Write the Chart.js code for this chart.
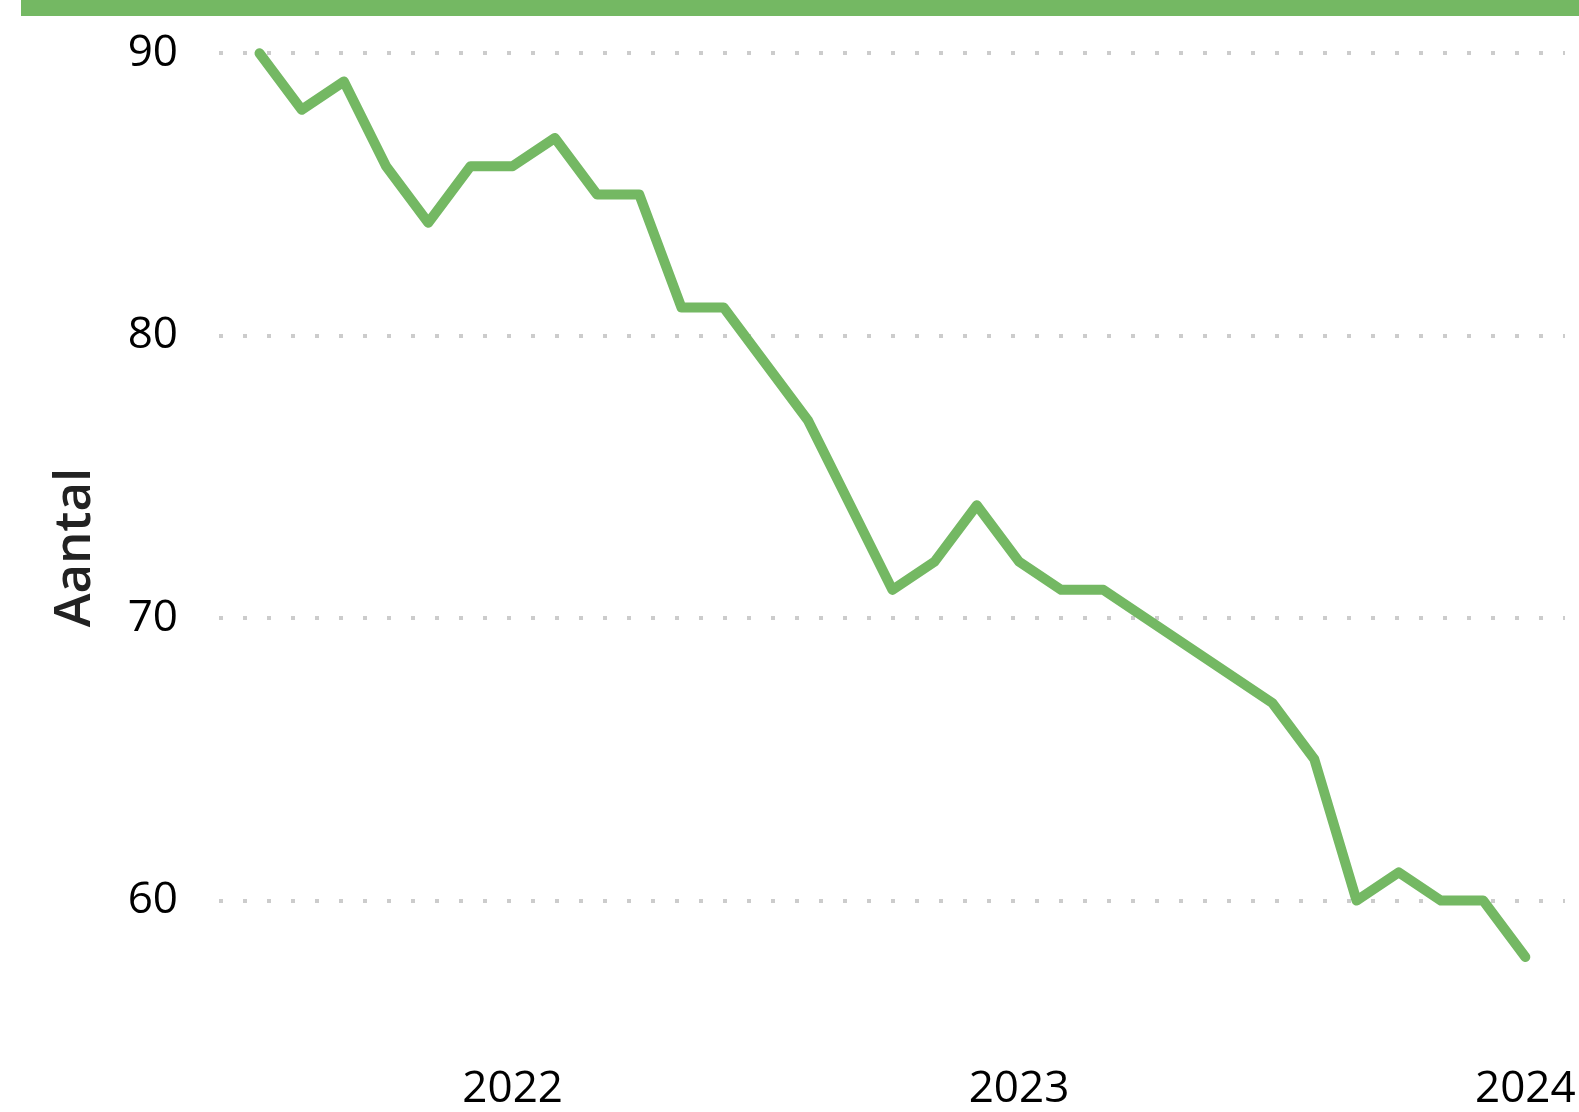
<!DOCTYPE html>
<html>
<head>
<meta charset="utf-8">
<script src="https://cdn.jsdelivr.net/npm/chart.js@4/dist/chart.umd.min.js"></script>
<style>
  html, body { margin: 0; padding: 0; background: #ffffff; overflow: hidden; }
  #wrap { position: absolute; left: 0; top: 0; width: 1579px; height: 1112px; }
  #bar { position: absolute; left: 21px; top: 0; right: 0; height: 16px; background: #74b863; z-index: 2; }
</style>
</head>
<body>
<div id="wrap"><canvas id="c"></canvas></div>
<div id="bar"></div>
<script>
// ---- data ----
const months = ['2021-07','2021-08','2021-09','2021-10','2021-11','2021-12',
  '2022-01','2022-02','2022-03','2022-04','2022-05','2022-06','2022-07','2022-08','2022-09','2022-10','2022-11','2022-12',
  '2023-01','2023-02','2023-03','2023-04','2023-05','2023-06','2023-07','2023-08','2023-09','2023-10','2023-11','2023-12',
  '2024-01'];
const values = [90,88,89,86,84,86,86,87,85,85,81,81,79,77,74,71,72,74,72,71,71,70,69,68,67,65,60,61,60,60,58];
const xTickLabels = ['2022','2023','2024'];
const yTickValues = [60,70,80,90];
const yAxisTitle = 'Aantal';

// ---- derived ----
const points = values.map((v, i) => ({ x: i, y: v }));
const xTickPositions = xTickLabels.map(lbl => months.indexOf(lbl + '-01'));
const xLabelAt = {};
xTickPositions.forEach((p, i) => { xLabelAt[p] = xTickLabels[i]; });

const green = '#74b863';
const fontFam = "'Open Sans', 'Noto Sans', sans-serif";

new Chart(document.getElementById('c'), {
  type: 'line',
  data: {
    datasets: [{
      data: points,
      borderColor: green,
      backgroundColor: green,
      borderWidth: 10,
      pointRadius: 0,
      pointHoverRadius: 0,
      fill: false,
      tension: 0,
      borderCapStyle: 'round',
      borderJoinStyle: 'round'
    }]
  },
  options: {
    responsive: true,
    maintainAspectRatio: false,
    animation: false,
    events: [],
    layout: { padding: { left: 0, right: 14, top: 25, bottom: 0 } },
    plugins: { legend: { display: false }, tooltip: { enabled: false } },
    scales: {
      x: {
        type: 'linear',
        min: -0.96,
        max: 30.94,
        grid: { display: false, drawTicks: false },
        border: { display: false },
        afterBuildTicks: (s) => { s.ticks = xTickPositions.map(v => ({ value: v })); },
        afterFit: (s) => { s.height = 42; s.paddingLeft = 0; s.paddingRight = 0; },
        ticks: {
          autoSkip: false,
          maxRotation: 0,
          padding: -7,
          color: '#000000',
          font: { family: fontFam, size: 44 },
          callback: (v) => xLabelAt[v] || ''
        }
      },
      y: {
        type: 'linear',
        min: 54,
        max: 91,
        grid: { color: '#cccccc', lineWidth: 4, drawTicks: false },
        border: { display: false, dash: [4, 20] },
        afterBuildTicks: (s) => { s.ticks = yTickValues.map(v => ({ value: v })); },
        afterFit: (s) => { s.width = 219; s.paddingTop = 0; s.paddingBottom = 0; },
        ticks: {
          padding: 41,
          color: '#000000',
          font: { family: fontFam, size: 44 }
        },
        title: {
          display: true,
          text: yAxisTitle,
          color: '#222222',
          font: { family: fontFam, size: 51, weight: '600' },
          padding: { top: 45, bottom: 0 }
        }
      }
    }
  }
});
</script>
</body>
</html>
